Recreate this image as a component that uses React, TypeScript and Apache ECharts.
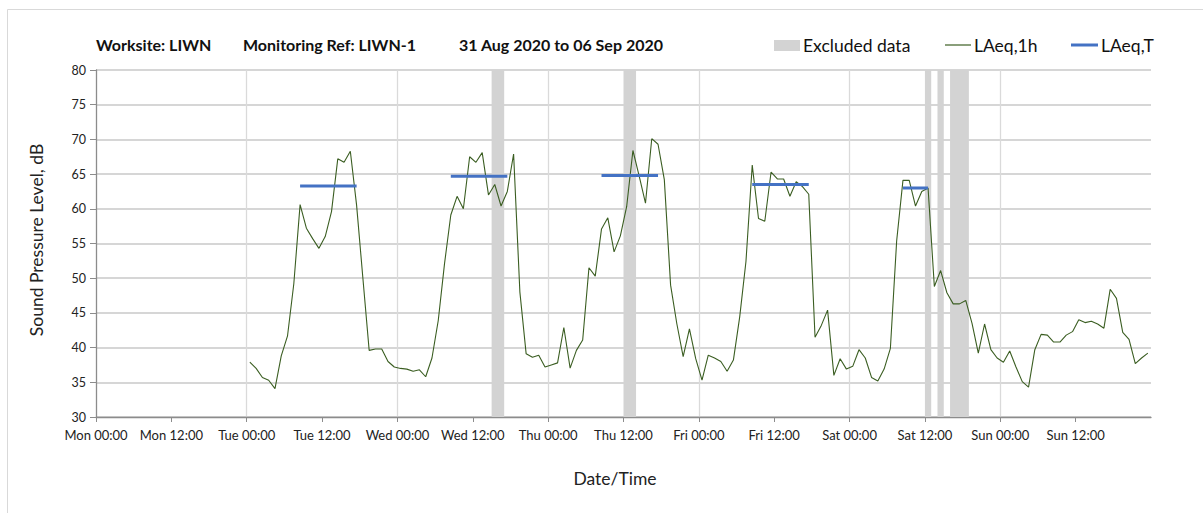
import React, { useEffect, useRef } from "react";
import * as echarts from "echarts";

const FONT = "Lato, 'Open Sans', sans-serif";

const DAY_NAMES = ["Mon", "Tue", "Wed", "Thu", "Fri", "Sat", "Sun"];
const X_MIN = 0;
const X_MAX = 168;
const X_INTERVAL = 12;
const Y_MIN = 30;
const Y_MAX = 80;
const Y_INTERVAL = 5;

// first hourly value is plotted at Tue 00:30 (hours from Mon 00:00)
const FIRST_HOUR = 24.5;

const tueValues = [37.9, 37.0, 35.7, 35.3, 34.1, 38.8, 41.7, 49.2, 60.6, 57.2, 55.7, 54.3, 56.0, 59.6, 67.2, 66.7, 68.3, 60.5, 50.0, 39.6, 39.8, 39.8, 38.0, 37.2];
const wedValues = [37.0, 36.9, 36.6, 36.8, 35.8, 38.5, 43.9, 52.1, 59.1, 61.8, 60.0, 67.5, 66.7, 68.1, 62.0, 63.5, 60.4, 62.5, 67.9, 48.0, 39.1, 38.6, 38.9, 37.2];
const thuValues = [37.5, 37.8, 42.9, 37.05, 39.6, 41.1, 51.5, 50.3, 57.1, 58.7, 53.8, 56.1, 60.3, 68.4, 64.7, 60.8, 70.1, 69.3, 64.2, 49.0, 43.4, 38.7, 42.7, 38.4];
const friValues = [35.3, 38.9, 38.5, 38.0, 36.6, 38.2, 44.4, 52.4, 66.3, 58.6, 58.2, 65.3, 64.3, 64.3, 61.8, 63.9, 63.2, 62.1, 41.5, 43.2, 45.4, 36.0, 38.4, 36.9];
const satValues = [37.3, 39.7, 38.5, 35.7, 35.2, 36.9, 39.9, 55.4, 64.1, 64.1, 60.4, 62.5, 63.0, 48.8, 51.1, 47.9, 46.3, 46.3, 46.8, 43.5, 39.2, 43.4, 39.7, 38.5];
const sunValues = [37.9, 39.5, 37.2, 35.1, 34.3, 39.7, 41.9, 41.8, 40.8, 40.8, 41.8, 42.3, 44.0, 43.6, 43.8, 43.4, 42.8, 48.4, 47.1, 42.2, 41.2, 37.7, 38.5, 39.2];

// excluded data periods (hours from Mon 00:00)
const excludedStart = [63, 84, 132, 134, 136];
const excludedEnd = [65, 86, 133, 135, 139];

// LAeq,T daytime periods
const periodStart = [32.5, 56.5, 80.5, 104.5, 128.5];
const periodEnd = [41.5, 65.5, 89.5, 113.5, 132.5];
const periodLevel = [63.3, 64.7, 64.8, 63.5, 63.0];

const TITLE_PARTS = ["Worksite: LIWN", "Monitoring Ref: LIWN-1", "31 Aug 2020 to 06 Sep 2020"];
const LEGEND_NAMES = ["Excluded data", "LAeq,1h", "LAeq,T"];
const X_AXIS_NAME = "Date/Time";
const Y_AXIS_NAME = "Sound Pressure Level, dB";

const GREEN = "#3b5e22";
const BLUE = "#4472c4";
const BAND = "#d3d3d3";

function fmtX(v: number): string {
  const day = DAY_NAMES[Math.floor(v / 24) % 7];
  const h = v % 24;
  return `${day} ${h === 0 ? "00:00" : "12:00"}`;
}

export default function App() {
  const ref = useRef<HTMLDivElement>(null);
  useEffect(() => {
    if (!ref.current) return;
    const chart = echarts.init(ref.current, undefined, { renderer: "svg" });
    const allValues = [...tueValues, ...wedValues, ...thuValues, ...friValues, ...satValues, ...sunValues];
    const lineData = allValues.map((v, i) => [FIRST_HOUR + i, v]);
    const bandData = excludedStart.map((s, i) => [s, excludedEnd[i]]);

    const periodSeries = periodStart.map((s, i) => ({
      type: "line",
      name: "LAeq,T",
      xAxisIndex: 0,
      yAxisIndex: 0,
      data: [
        [s, periodLevel[i]],
        [periodEnd[i], periodLevel[i]],
      ],
      symbol: "none",
      lineStyle: { color: BLUE, width: 3 },
      z: 4,
      silent: true,
    }));

    chart.setOption({
      animation: false,
      grid: { left: 96, right: 52, top: 70, bottom: 96 },
      xAxis: [
        {
          type: "value",
          min: X_MIN,
          max: X_MAX,
          interval: X_INTERVAL,
          axisLine: { show: true, lineStyle: { color: "#8c8c8c", width: 1.3 } },
          axisTick: { show: true, length: 5, lineStyle: { color: "#8c8c8c" } },
          axisLabel: {
            formatter: fmtX,
            showMaxLabel: false,
            fontFamily: FONT,
            fontSize: 13,
            color: "#222",
            margin: 11,
          },
          splitLine: { show: false },
        },
        {
          type: "value",
          min: X_MIN,
          max: X_MAX,
          interval: 24,
          position: "bottom",
          axisLine: { show: false },
          axisTick: { show: false },
          axisLabel: { show: false },
          splitLine: { show: true, showMinLine: false, showMaxLine: false, lineStyle: { color: "#dadada", width: 1.3 } },
        },
      ],
      yAxis: {
        type: "value",
        min: Y_MIN,
        max: Y_MAX,
        interval: Y_INTERVAL,
        axisLine: { show: true, lineStyle: { color: "#8c8c8c", width: 1.3 } },
        axisTick: { show: true, length: 6, lineStyle: { color: "#8c8c8c" } },
        axisLabel: { fontFamily: FONT, fontSize: 12.5, color: "#222", margin: 10 },
        splitLine: { show: true, lineStyle: { color: "#c8c8c8", width: 1.5 } },
      },
      series: [
        {
          type: "custom",
          name: "Excluded data",
          data: bandData,
          encode: { x: [0, 1] },
          z: 1,
          silent: true,
          renderItem: (params: any, api: any) => {
            const p0 = api.coord([api.value(0), Y_MAX]);
            const p1 = api.coord([api.value(1), Y_MIN]);
            return {
              type: "rect",
              shape: { x: p0[0], y: p0[1], width: p1[0] - p0[0], height: p1[1] - p0[1] },
              style: { fill: BAND },
            };
          },
        },
        {
          type: "line",
          name: "LAeq,1h",
          data: lineData,
          symbol: "none",
          lineStyle: { color: GREEN, width: 1.1 },
          z: 3,
          silent: true,
        },
        ...periodSeries,
      ],
      graphic: [
        {
          type: "rect",
          left: 5,
          top: 7,
          shape: { width: 1300, height: 600 },
          style: { fill: "none", stroke: "#d9d9d9", lineWidth: 1 },
          silent: true,
        },
        {
          type: "text",
          x: 96,
          y: 44,
          style: { text: TITLE_PARTS[0], font: `bold 16px ${FONT}`, fill: "#111", textVerticalAlign: "middle" },
        },
        {
          type: "text",
          x: 243,
          y: 44,
          style: { text: TITLE_PARTS[1], font: `bold 16px ${FONT}`, fill: "#111", textVerticalAlign: "middle" },
        },
        {
          type: "text",
          x: 459,
          y: 44,
          style: { text: TITLE_PARTS[2], font: `bold 16px ${FONT}`, fill: "#111", textVerticalAlign: "middle" },
        },
        {
          type: "rect",
          shape: { x: 774, y: 40, width: 26, height: 11 },
          style: { fill: BAND },
        },
        {
          type: "text",
          x: 803,
          y: 45,
          style: { text: LEGEND_NAMES[0], font: `17.5px ${FONT}`, fill: "#111", textVerticalAlign: "middle" },
        },
        {
          type: "line",
          shape: { x1: 945, y1: 45, x2: 971, y2: 45 },
          style: { stroke: GREEN, lineWidth: 1.2 },
        },
        {
          type: "text",
          x: 974,
          y: 45,
          style: { text: LEGEND_NAMES[1], font: `17.5px ${FONT}`, fill: "#111", textVerticalAlign: "middle" },
        },
        {
          type: "line",
          shape: { x1: 1071, y1: 45, x2: 1098, y2: 45 },
          style: { stroke: BLUE, lineWidth: 3 },
        },
        {
          type: "text",
          x: 1101,
          y: 45,
          style: { text: LEGEND_NAMES[2], font: `17.5px ${FONT}`, fill: "#111", textVerticalAlign: "middle" },
        },
        {
          type: "text",
          x: 615,
          y: 478,
          style: { text: X_AXIS_NAME, font: `17.5px ${FONT}`, fill: "#222", textAlign: "center", textVerticalAlign: "middle" },
        },
        {
          type: "text",
          x: 36,
          y: 240,
          rotation: Math.PI / 2,
          style: { text: Y_AXIS_NAME, font: `17.5px ${FONT}`, fill: "#222", textAlign: "center", textVerticalAlign: "middle" },
        },
      ],
    });
    return () => chart.dispose();
  }, []);
  return (
    <div
      ref={ref}
      style={{ position: "fixed", left: 0, top: 0, width: 1203, height: 513, background: "#fff" }}
    />
  );
}
